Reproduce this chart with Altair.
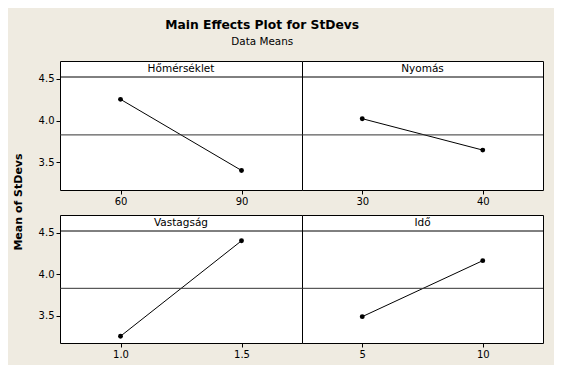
import altair as alt
import pandas as pd

factors = ["Hőmérséklet", "Nyomás", "Vastagság", "Idő"]
levels = [["60", "90"], ["30", "40"], ["1.0", "1.5"], ["5", "10"]]
means = [[4.256, 3.404], [4.024, 3.648], [3.252, 4.404], [3.488, 4.164]]
grand_mean = 3.83
y_ticks = [3.5, 4.0, 4.5]
y_domain = [3.17, 4.715]

title_text = "Main Effects Plot for StDevs"
subtitle_text = "Data Means"
y_title = "Mean of StDevs"

FONT = "DejaVu Sans"
widths = [242, 241, 242, 241]
heights = [129, 129, 128, 128]


def panel(i):
    df = pd.DataFrame({"level": levels[i], "mean": means[i]})
    one = pd.DataFrame({"factor": [factors[i]], "grand": [grand_mean],
                        "ytitle": [y_title]})
    w, h = widths[i], heights[i]
    left = i % 2 == 0
    if left:
        yaxis = alt.Axis(values=y_ticks, format=".1f", tickSize=4, labelPadding=2,
                         domain=False, grid=False, title=None)
    else:
        yaxis = None
    yscale = alt.Scale(domain=y_domain, nice=False, zero=False)
    x = alt.X("level:O",
              scale=alt.Scale(type="point", domain=levels[i], padding=0.5),
              axis=alt.Axis(title=None, labelAngle=0, tickSize=4, labelPadding=2,
                            domain=False, grid=False))
    y = alt.Y("mean:Q", scale=yscale, axis=yaxis)
    base = alt.Chart(df)
    single = alt.Chart(one)
    line = base.mark_line(color="black", strokeWidth=1).encode(x=x, y=y)
    pts = base.mark_circle(color="black", opacity=1, size=24).encode(x=x, y=y)
    mean_rule = single.mark_rule(color="#333333", strokeWidth=1).encode(
        y=alt.Y("grand:Q", scale=yscale, axis=yaxis))
    strip_rule = single.mark_rule(color="black", strokeWidth=1).encode(
        x=alt.value(0), x2=alt.value(w), y=alt.value(16))
    strip_text = single.mark_text(font=FONT, fontSize=10.5, fontWeight="normal",
                                  color="black", baseline="middle",
                                  align="center").encode(
        x=alt.value(w / 2), y=alt.value(8), text="factor:N")
    layers = [line, pts, mean_rule, strip_rule, strip_text]
    if i == 0:
        ytitle = single.mark_text(font=FONT, fontSize=11, fontWeight="bold",
                                  color="black", angle=270, baseline="middle",
                                  align="center").encode(
            x=alt.value(-41), y=alt.value(141), text="ytitle:N")
        layers.append(ytitle)
    return alt.layer(*layers).properties(width=w, height=h)


chart = alt.concat(
    panel(0), panel(1), panel(2), panel(3), columns=2,
    spacing=alt.RowColnumber(row=25, column=0), bounds="flush"
).properties(
    title=alt.TitleParams(
        text=title_text, subtitle=subtitle_text, anchor="middle",
        font=FONT, fontSize=12.3, fontWeight="bold", color="black",
        subtitleFont=FONT, subtitleFontSize=10.4, subtitleColor="black",
        subtitleFontWeight="normal", subtitlePadding=6, offset=13, dx=-16),
    padding={"left": 4, "top": 10, "right": 10, "bottom": 5},
    background="#efebe1",
).configure_view(
    stroke="black", strokeWidth=1, fill="white"
).configure_axis(
    labelFont=FONT, labelFontSize=10, labelColor="black", tickColor="black",
    tickWidth=1
)

chart.save("out.html", embed_options={"renderer": "svg", "actions": False})
